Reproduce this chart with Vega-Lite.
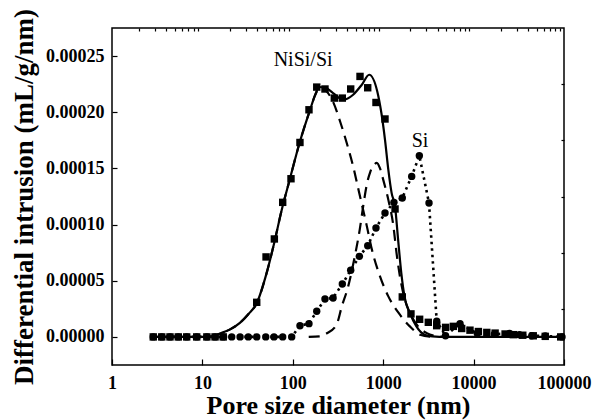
{
  "$schema": "https://vega.github.io/schema/vega-lite/v6.json",
  "width": 452,
  "height": 337,
  "autosize": "none",
  "padding": {"left": 112, "top": 28, "right": 29, "bottom": 55},
  "background": "white",
  "config": {
    "view": {"stroke": "black", "strokeWidth": 1.5},
    "font": "Liberation Serif",
    "axis": {
      "domain": false,
      "grid": false,
      "tickColor": "black",
      "tickWidth": 1.2,
      "labelColor": "black",
      "labelFont": "Liberation Serif",
      "labelFontWeight": "bold",
      "labelFontSize": 18,
      "titleFont": "Liberation Serif",
      "titleFontWeight": "bold",
      "titleFontSize": 26,
      "titleColor": "black"
    }
  },
  "datasets": {
    "squares": [
      {"d": 2.86, "v": 0}, {"d": 3.55, "v": 0}, {"d": 4.38, "v": 0}, {"d": 5.41, "v": 0},
      {"d": 6.7, "v": 0}, {"d": 8.65, "v": 0}, {"d": 11.2, "v": 0}, {"d": 13.8, "v": 0},
      {"d": 17.0, "v": 0},
      {"d": 39.9, "v": 0.0000308}, {"d": 50.6, "v": 0.0000712}, {"d": 62.5, "v": 0.0000872},
      {"d": 77.3, "v": 0.0001198}, {"d": 95.5, "v": 0.0001408}, {"d": 120, "v": 0.0001731},
      {"d": 151, "v": 0.0002022}, {"d": 184, "v": 0.0002224}, {"d": 227, "v": 0.0002207},
      {"d": 288, "v": 0.0002126}, {"d": 353, "v": 0.0002126}, {"d": 437, "v": 0.0002207},
      {"d": 554, "v": 0.0002319}, {"d": 674, "v": 0.0002218}, {"d": 832, "v": 0.0002087},
      {"d": 1047, "v": 0.000194}, {"d": 1352, "v": 0.0001139}, {"d": 1626, "v": 0.0000356},
      {"d": 2028, "v": 0.0000205}, {"d": 2530, "v": 0.0000157}, {"d": 3156, "v": 0.000013},
      {"d": 3908, "v": 0.00001}, {"d": 4900, "v": 0.0000085}, {"d": 5970, "v": 0.0000094},
      {"d": 7380, "v": 0.0000075}, {"d": 9120, "v": 0.000006}, {"d": 11300, "v": 0.0000048},
      {"d": 14000, "v": 0.000004}, {"d": 17300, "v": 0.0000034}, {"d": 22300, "v": 0.0000026},
      {"d": 27500, "v": 0.000002}, {"d": 35000, "v": 0.0000015}, {"d": 45700, "v": 0.000001},
      {"d": 62000, "v": 0.0000005}, {"d": 92000, "v": 0}
    ],
    "circles": [
      {"d": 2.86, "v": 0}, {"d": 3.55, "v": 0}, {"d": 4.38, "v": 0}, {"d": 5.41, "v": 0},
      {"d": 6.7, "v": 0}, {"d": 8.65, "v": 0}, {"d": 11.2, "v": 0}, {"d": 13.8, "v": 0},
      {"d": 17.0, "v": 0}, {"d": 21.1, "v": 0}, {"d": 26.1, "v": 0}, {"d": 32.2, "v": 0},
      {"d": 39.9, "v": 0}, {"d": 50.2, "v": 0}, {"d": 61.9, "v": 0}, {"d": 77.3, "v": 0},
      {"d": 97.2, "v": 0},
      {"d": 120, "v": 0.00001}, {"d": 151, "v": 0.0000118}, {"d": 184, "v": 0.0000228},
      {"d": 227, "v": 0.0000338}, {"d": 279, "v": 0.0000347}, {"d": 353, "v": 0.0000471},
      {"d": 437, "v": 0.0000593}, {"d": 545, "v": 0.0000717}, {"d": 674, "v": 0.0000812},
      {"d": 832, "v": 0.000097}, {"d": 1047, "v": 0.0001103}, {"d": 1315, "v": 0.0001198},
      {"d": 1626, "v": 0.0001237}, {"d": 2066, "v": 0.0001429}, {"d": 2510, "v": 0.0001613},
      {"d": 3212, "v": 0.0001192}, {"d": 3908, "v": 0.0000139}, {"d": 4890, "v": 0.000001},
      {"d": 7080, "v": 0.0000118}, {"d": 11000, "v": 0.000003}, {"d": 17000, "v": 0.0000025},
      {"d": 25000, "v": 0.000003}, {"d": 32000, "v": 0.000002}, {"d": 44000, "v": 0.000001},
      {"d": 62000, "v": 0.0000008}, {"d": 95000, "v": 0}
    ],
    "fitsum": [
      {"d": 3, "v": 0}, {"d": 10, "v": 0}, {"d": 13, "v": 0.0000005}, {"d": 15.6, "v": 0.000003},
      {"d": 20, "v": 0.0000065}, {"d": 26, "v": 0.0000125}, {"d": 32, "v": 0.00002},
      {"d": 39.9, "v": 0.00003}, {"d": 51.4, "v": 0.000057}, {"d": 63.5, "v": 0.0000866},
      {"d": 75.5, "v": 0.0001133}, {"d": 90, "v": 0.0001365}, {"d": 120, "v": 0.000174},
      {"d": 155, "v": 0.000202}, {"d": 176, "v": 0.000215}, {"d": 195, "v": 0.0002225},
      {"d": 227, "v": 0.000222}, {"d": 279, "v": 0.0002171}, {"d": 361, "v": 0.0002111},
      {"d": 465, "v": 0.0002156}, {"d": 580, "v": 0.0002245}, {"d": 700, "v": 0.0002334},
      {"d": 860, "v": 0.0002185}, {"d": 955, "v": 0.0001993}, {"d": 1047, "v": 0.0001755},
      {"d": 1140, "v": 0.0001488}, {"d": 1240, "v": 0.000128}, {"d": 1352, "v": 0.0001162},
      {"d": 1462, "v": 0.0000866}, {"d": 1585, "v": 0.000057}, {"d": 1720, "v": 0.0000361},
      {"d": 1970, "v": 0.0000214}, {"d": 2330, "v": 0.0000094}, {"d": 2870, "v": 0.000002},
      {"d": 3500, "v": 0.0000005}, {"d": 5000, "v": 0}, {"d": 100000, "v": 0}
    ],
    "fit1": [
      {"d": 3, "v": 0}, {"d": 10, "v": 0}, {"d": 13, "v": 0.0000005}, {"d": 15.6, "v": 0.000003},
      {"d": 20, "v": 0.0000065}, {"d": 26, "v": 0.0000125}, {"d": 32, "v": 0.00002},
      {"d": 39.9, "v": 0.00003}, {"d": 51.4, "v": 0.000057}, {"d": 63.5, "v": 0.0000866},
      {"d": 75.5, "v": 0.0001133}, {"d": 90, "v": 0.0001365}, {"d": 120, "v": 0.000174},
      {"d": 155, "v": 0.000202}, {"d": 176, "v": 0.000215}, {"d": 200, "v": 0.000222},
      {"d": 235, "v": 0.000219}, {"d": 280, "v": 0.000209}, {"d": 333, "v": 0.000192},
      {"d": 395, "v": 0.0001726}, {"d": 465, "v": 0.0001518}, {"d": 540, "v": 0.000129},
      {"d": 660, "v": 0.0000984}, {"d": 750, "v": 0.0000777}, {"d": 922, "v": 0.0000539},
      {"d": 1140, "v": 0.0000361}, {"d": 1530, "v": 0.0000198}, {"d": 1970, "v": 0.0000094},
      {"d": 2560, "v": 0.000002}, {"d": 3500, "v": 0}
    ],
    "fit2": [
      {"d": 150, "v": 0}, {"d": 200, "v": 0.0000005}, {"d": 236, "v": 0.000003},
      {"d": 305, "v": 0.000011}, {"d": 348, "v": 0.000027}, {"d": 410, "v": 0.000045},
      {"d": 485, "v": 0.0000717}, {"d": 550, "v": 0.0000955}, {"d": 605, "v": 0.000118},
      {"d": 656, "v": 0.000135}, {"d": 720, "v": 0.000147}, {"d": 790, "v": 0.000153},
      {"d": 850, "v": 0.000155}, {"d": 922, "v": 0.00015}, {"d": 1000, "v": 0.00014},
      {"d": 1140, "v": 0.000122}, {"d": 1290, "v": 0.0001}, {"d": 1420, "v": 0.0000717},
      {"d": 1530, "v": 0.000054}, {"d": 1740, "v": 0.000033}, {"d": 2070, "v": 0.000018},
      {"d": 2430, "v": 0.0000094}, {"d": 3000, "v": 0.0000036}, {"d": 4000, "v": 0.0000005},
      {"d": 5000, "v": 0}
    ],
    "labels": [
      {"d": 130, "v": 0.0002463, "label": "NiSi/Si"},
      {"d": 2553, "v": 0.0001747, "label": "Si"}
    ]
  },
  "resolve": {"axis": {"x": "independent", "y": "independent"}},
  "encoding": {
    "x": {
      "field": "d",
      "type": "quantitative",
      "scale": {"type": "log", "domain": [1, 100000], "nice": false},
      "axis": null
    },
    "y": {
      "field": "v",
      "type": "quantitative",
      "scale": {"domain": [-0.000025, 0.000275], "nice": false, "zero": false},
      "axis": null
    }
  },
  "layer": [
    {
      "data": {"name": "fit1"},
      "mark": {"type": "line", "color": "black", "strokeWidth": 2.2, "strokeDash": [11, 7], "interpolate": "monotone"}
    },
    {
      "data": {"name": "fit2"},
      "mark": {"type": "line", "color": "black", "strokeWidth": 2.2, "strokeDash": [11, 7], "interpolate": "monotone"}
    },
    {
      "data": {"name": "fitsum"},
      "mark": {"type": "line", "color": "black", "strokeWidth": 2.2, "interpolate": "monotone"},
      "encoding": {
        "x": {
          "field": "d",
          "type": "quantitative",
          "scale": {"type": "log", "domain": [1, 100000], "nice": false},
          "axis": {
            "title": "Pore size diameter (nm)",
            "values": [1, 10, 100, 1000, 10000, 100000],
            "format": "d",
            "tickSize": -6,
            "labelFlush": false,
            "labelOverlap": false,
            "labelPadding": 15,
            "titlePadding": 0
          }
        },
        "y": {
          "field": "v",
          "type": "quantitative",
          "scale": {"domain": [-0.000025, 0.000275], "nice": false, "zero": false},
          "axis": {
            "title": "Differential intrusion (mL/g/nm)",
            "titleFontSize": 27,
            "values": [0, 0.00005, 0.0001, 0.00015, 0.0002, 0.00025],
            "format": ".5f",
            "tickSize": -5,
            "labelFlush": false,
            "labelOverlap": false,
            "labelPadding": 13,
            "titlePadding": 7
          }
        }
      }
    },
    {
      "data": {"name": "circles"},
      "mark": {"type": "line", "color": "black", "strokeWidth": 2.6, "strokeDash": [2.5, 4]}
    },
    {
      "data": {"name": "circles"},
      "mark": {"type": "point", "shape": "circle", "filled": true, "color": "black", "opacity": 1, "size": 55}
    },
    {
      "data": {"name": "squares"},
      "mark": {"type": "point", "shape": "square", "filled": true, "color": "black", "opacity": 1, "size": 55}
    },
    {
      "data": {"name": "labels"},
      "mark": {"type": "text", "font": "Liberation Serif", "fontSize": 20, "color": "black", "align": "center", "baseline": "middle"},
      "encoding": {
        "text": {"field": "label"},
        "x": {
          "field": "d",
          "type": "quantitative",
          "scale": {"type": "log", "domain": [1, 100000], "nice": false},
          "axis": {
            "title": null,
            "values": [2,3,4,5,6,7,8,9,20,30,40,50,60,70,80,90,200,300,400,500,600,700,800,900,2000,3000,4000,5000,6000,7000,8000,9000,20000,30000,40000,50000,60000,70000,80000,90000],
            "labels": false,
            "tickSize": -3
          }
        },
        "y": {
          "field": "v",
          "type": "quantitative",
          "scale": {"domain": [-0.000025, 0.000275], "nice": false, "zero": false},
          "axis": {
            "title": null,
            "values": [0.000025, 0.000075, 0.000125, 0.000175, 0.000225],
            "labels": false,
            "tickSize": -3
          }
        }
      }
    }
  ]
}
